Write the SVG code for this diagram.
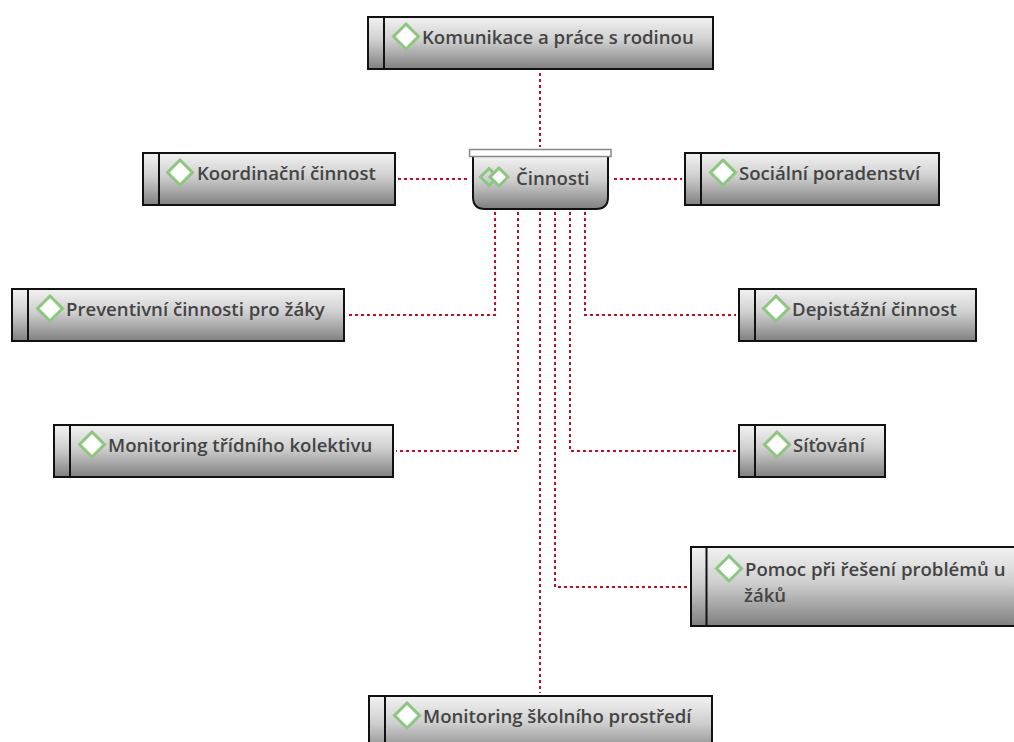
<svg xmlns="http://www.w3.org/2000/svg" width="1014" height="742" viewBox="0 0 1014 742">
<style>
.box{fill:url(#g);stroke:#111;stroke-width:2}
.div{stroke:#111;stroke-width:2;fill:none}
.t{font-family:"Open Sans","Noto Sans","Liberation Sans",sans-serif;font-size:18.6px;font-weight:600;fill:#444}
.d{fill:url(#w);stroke:#8cc77f;stroke-width:3}
.c{fill:none;stroke:#c00d26;stroke-width:2;stroke-dasharray:3 3}
</style>
<defs>
<linearGradient id="g" x1="0" y1="0" x2="0" y2="1"><stop offset="0" stop-color="#f2f2f2"/><stop offset="0.45" stop-color="#cfcfcf"/><stop offset="1" stop-color="#808080"/></linearGradient>
<radialGradient id="w"><stop offset="0.5" stop-color="#fff"/><stop offset="1" stop-color="#eef5ea"/></radialGradient>
<polygon id="dm" class="d" points="0,-12.500 12.500,0 0,12.500 -12.500,0"/>
</defs>
<rect width="1014" height="742" fill="#fff"/>
<g id="connectors">
<path class="c" d="M540 73V147"/>
<path class="c" d="M398 179H467"/>
<path class="c" d="M614 179H682"/>
<path class="c" d="M495 212V315H347"/>
<path class="c" d="M518 212V451H396"/>
<path class="c" d="M540 212V693"/>
<path class="c" d="M555 212V587H688"/>
<path class="c" d="M570 212V451H736"/>
<path class="c" d="M585 212V315H736"/>
</g>
<g id="n-komunikace"><rect class="box" x="368" y="17" width="345" height="52"/><path class="div" d="M384 17V69"/><use href="#dm" x="406" y="36.500"/><text class="t" x="422" y="43.500">Komunikace a práce s rodinou</text></g>
<g id="n-koordinacni"><rect class="box" x="143" y="153" width="252" height="52"/><path class="div" d="M159 153V205"/><use href="#dm" x="180" y="172.500"/><text class="t" x="197" y="180">Koordinační činnost</text></g>
<g id="n-socialni"><rect class="box" x="685" y="153" width="254" height="52"/><path class="div" d="M701 153V205"/><use href="#dm" x="723" y="172.500"/><text class="t" x="739" y="180">Sociální poradenství</text></g>
<g id="n-cinnosti">
<path class="box" d="M473 156V197Q473 209 485 209H596Q608 209 608 197V156Z"/>
<rect x="469.500" y="149.500" width="141.500" height="7" fill="#fff" stroke="#888" stroke-width="1.500"/>
<polygon points="489,168.500 497.500,177 489,185.500 480.500,177" fill="none" stroke="#8cc77f" stroke-width="3"/>
<polygon class="d" points="499,168 508,177 499,186 490,177"/>
<text class="t" x="516" y="184.500">Činnosti</text></g>
<g id="n-preventivni"><rect class="box" x="12" y="289" width="332" height="52"/><path class="div" d="M28 289V341"/><use href="#dm" x="50" y="308.500"/><text class="t" x="66" y="316">Preventivní činnosti pro žáky</text></g>
<g id="n-depistazni"><rect class="box" x="739" y="289" width="237" height="52"/><path class="div" d="M755 289V341"/><use href="#dm" x="776" y="308.500"/><text class="t" x="792" y="316">Depistážní činnost</text></g>
<g id="n-monitoring-tridni"><rect class="box" x="54" y="425" width="339" height="52"/><path class="div" d="M70 425V477"/><use href="#dm" x="92" y="444.500"/><text class="t" x="108" y="452">Monitoring třídního kolektivu</text></g>
<g id="n-sitovani"><rect class="box" x="739" y="425" width="146" height="52"/><path class="div" d="M755 425V477"/><use href="#dm" x="777" y="444.500"/><text class="t" x="793" y="452">Síťování</text></g>
<g id="n-pomoc"><rect class="box" x="691" y="547" width="330" height="79"/><path class="div" d="M706.500 547V626"/><use href="#dm" x="729" y="568.500"/><text class="t" x="745" y="575.500">Pomoc při řešení problémů u</text><text class="t" x="744" y="602">žáků</text></g>
<g id="n-monitoring-skolni"><rect class="box" x="369" y="696" width="343" height="60"/><path class="div" d="M385 696V756"/><use href="#dm" x="407" y="715.500"/><text class="t" x="423" y="723">Monitoring školního prostředí</text></g>
</svg>
